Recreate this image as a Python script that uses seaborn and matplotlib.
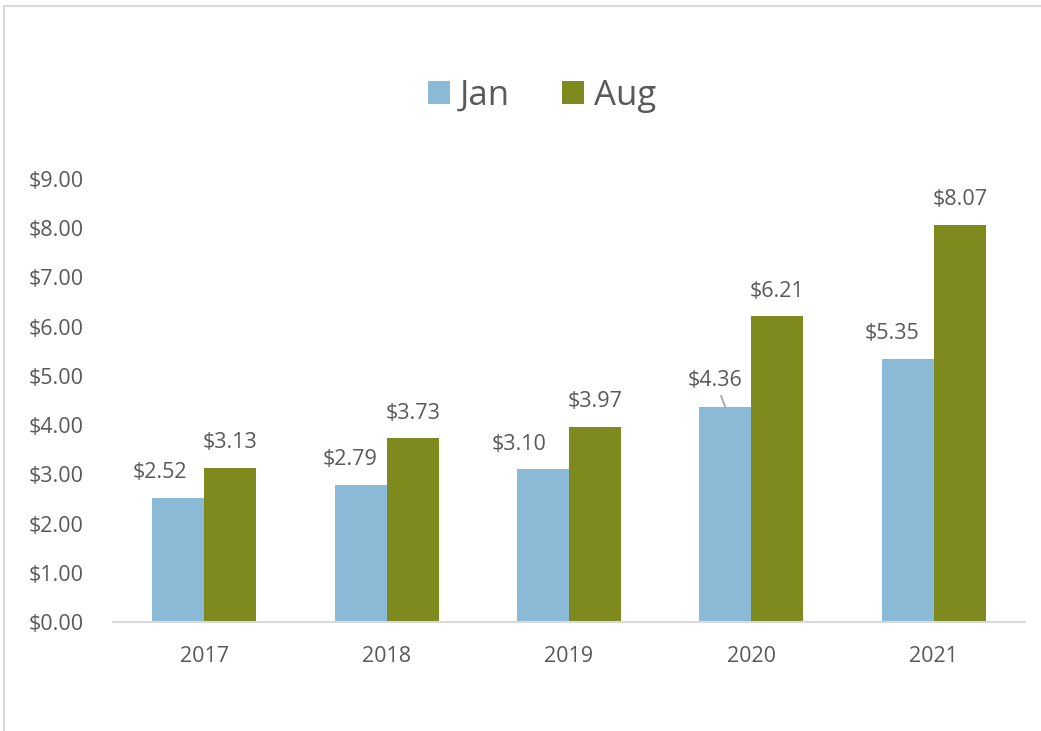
import matplotlib
matplotlib.use("Agg")
import matplotlib.pyplot as plt
from matplotlib.patches import Rectangle
import seaborn as sns
import pandas as pd

years = ["2017", "2018", "2019", "2020", "2021"]
jan = [2.52, 2.79, 3.10, 4.36, 5.35]
aug = [3.13, 3.73, 3.97, 6.21, 8.07]
series = ["Jan", "Aug"]
yticks = [0, 1, 2, 3, 4, 5, 6, 7, 8, 9]

colors = {"Jan": "#8BBAD6", "Aug": "#7E891E"}
text_color = "#595959"

df = pd.DataFrame({
    "year": years * 2,
    "value": jan + aug,
    "month": ["Jan"] * len(years) + ["Aug"] * len(years),
})

sns.set_theme(style="white")
plt.rcParams["font.family"] = ["Open Sans", "DejaVu Sans"]

fig = plt.figure(figsize=(10.41, 7.31), dpi=100)
ax = fig.add_axes([113 / 1041, 109 / 731, 912 / 1041, 443 / 731])

sns.barplot(data=df, x="year", y="value", hue="month", hue_order=series,
            palette=colors, width=0.57, saturation=1, ax=ax, legend=True,
            linewidth=0)

ax.set_ylim(0, 9)
ax.set_xlim(-0.5, len(years) - 0.5)
ax.set_yticks(yticks)
ax.set_yticklabels([f"${v:.2f}" for v in yticks])
ax.set_xlabel("")
ax.set_ylabel("")
for s in ["top", "right", "left"]:
    ax.spines[s].set_visible(False)
ax.spines["bottom"].set_color("#D9D9D9")
ax.spines["bottom"].set_linewidth(1.5)
ax.tick_params(axis="y", length=0, pad=21, labelsize=15.5, labelcolor=text_color)
ax.tick_params(axis="x", length=0, pad=17, labelsize=15.5, labelcolor=text_color)

# data labels (pixel offsets are style only)
jan_dx = [-18, -11, -24, -10, -16]
for ci, cont in enumerate(ax.containers[:2]):
    for bi, bar in enumerate(cont):
        h = bar.get_height()
        xc = bar.get_x() + bar.get_width() / 2
        dx = jan_dx[bi] * 0.72 if ci == 0 else 0
        leader = (ci == 0 and bi == 3)
        if leader:
            ax.annotate(f"${h:.2f}", xy=(xc, h), xytext=(dx, 21),
                        textcoords="offset points", ha="center", va="center_baseline",
                        fontsize=15.5, color=text_color,
                        arrowprops=dict(arrowstyle="-", color="#A6A6A6", lw=1.3,
                                        shrinkA=1, shrinkB=0))
        else:
            ax.annotate(f"${h:.2f}", xy=(xc, h), xytext=(dx, 20),
                        textcoords="offset points", ha="center", va="center_baseline",
                        fontsize=15.5, color=text_color)

handles, labels = ax.get_legend_handles_labels()
ax.get_legend().remove()
fig.legend(handles, labels, loc="center", bbox_to_anchor=(0.521, 0.869),
           ncol=2, frameon=False, fontsize=25, labelcolor=text_color,
           handlelength=0.62, handleheight=0.62, handletextpad=0.3, columnspacing=1.5)

fig.patches.append(Rectangle((4 / 1041, -0.1), 1.2, (731 - 6) / 731 + 0.1,
                             transform=fig.transFigure, fill=False,
                             edgecolor="#D9D9D9", linewidth=1.5, zorder=-1))

fig.savefig("out.png", dpi=100, facecolor="white")
